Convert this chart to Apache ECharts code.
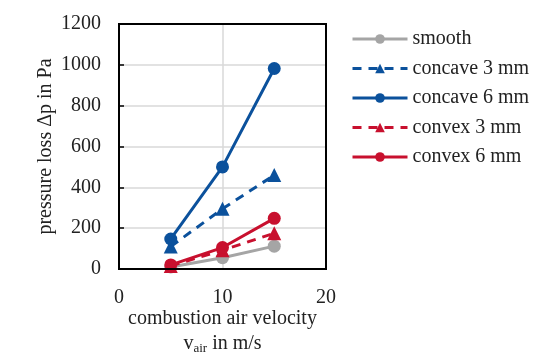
<!DOCTYPE html>
<html><head><meta charset="utf-8">
<script src="https://cdn.jsdelivr.net/npm/echarts@6/dist/echarts.min.js"></script>
<style>html,body{margin:0;padding:0;background:#fff}#c{width:550px;height:364px}</style>
</head><body><div id="c"></div>
<script>
const velocities = [5, 10, 15];
const smooth = [10, 55, 112];
const concave3 = [110, 295, 460];
const concave6 = [147, 500, 982];
const convex3 = [15, 92, 175];
const convex6 = [20, 105, 248];
const xTicks = [0, 10, 20];
const yTicks = [0, 200, 400, 600, 800, 1000, 1200];

const FONT = '"Liberation Serif", "DejaVu Serif", serif';
const FS = 20;
const BLUE = '#0b519c', RED = '#c8102e', GRAY = '#a5a5a5';
function pts(v){ return velocities.map((x,i)=>[x, v[i]]); }
function mk(name, data, color, dashed, symbol){
  return {name, type:'line', data:pts(data), symbol, symbolSize: symbol==='circle'?13:14,
    lineStyle:{color, width:3, type: dashed?[9,7]:'solid'}, itemStyle:{color}, z: 3};
}
const chart = echarts.init(document.getElementById('c'), null, {renderer:'canvas'});
chart.setOption({
  animation:false,
  textStyle:{fontFamily:FONT},
  grid:{left:119, right:224, top:24, bottom:95, containLabel:false, outerBoundsMode:'none'},
  xAxis:{type:'value', min:xTicks[0], max:xTicks[xTicks.length-1], interval:10,
    axisLine:{show:true, onZero:false, lineStyle:{color:'#000', width:2}},
    axisTick:{show:false},
    axisLabel:{fontSize:FS, color:'#222', fontFamily:FONT, margin:19},
    splitLine:{show:true, lineStyle:{color:'#d9d9d9', width:1.5}},
    name:'combustion air velocity\n{a|v}{b|air}{a| in m/s}', nameLocation:'middle', nameGap:37,
    nameMoveOverlap:false,
    nameTextStyle:{fontSize:FS, color:'#222', fontFamily:FONT, lineHeight:25,
      rich:{a:{fontSize:FS, fontFamily:FONT, color:'#222'}, b:{fontSize:13, fontFamily:FONT, color:'#222', padding:[10,0,0,0]}}}
  },
  yAxis:{type:'value', min:yTicks[0], max:yTicks[yTicks.length-1], interval:200,
    axisLine:{show:true, lineStyle:{color:'#000', width:2}},
    axisTick:{show:true, inside:true, length:5, lineStyle:{color:'#000', width:1.5}},
    axisLabel:{fontSize:FS, color:'#222', fontFamily:FONT, margin:18, formatter:v=>String(v)},
    splitLine:{show:true, lineStyle:{color:'#d9d9d9', width:1.5}},
    name:'pressure loss Δp in Pa', nameLocation:'middle', nameGap:63, nameMoveOverlap:false,
    nameTextStyle:{fontSize:FS, color:'#222', fontFamily:FONT}
  },
  legend:{orient:'vertical', left:346, top:24, itemWidth:55, itemHeight:12, itemGap:9.5,
    lineStyle:{width:3},
    textStyle:{fontSize:FS, color:'#222', fontFamily:FONT}, data:['smooth','concave 3 mm','concave 6 mm','convex 3 mm','convex 6 mm']},
  graphic:[{type:'rect', shape:{x:119, y:24, width:207, height:245}, style:{fill:'none', stroke:'#000', lineWidth:2}, z:10, silent:true}],
  series:[
    mk('smooth', smooth, GRAY, false, 'circle'),
    mk('concave 3 mm', concave3, BLUE, true, 'triangle'),
    mk('concave 6 mm', concave6, BLUE, false, 'circle'),
    mk('convex 3 mm', convex3, RED, true, 'triangle'),
    mk('convex 6 mm', convex6, RED, false, 'circle')
  ]
});
</script></body></html>
